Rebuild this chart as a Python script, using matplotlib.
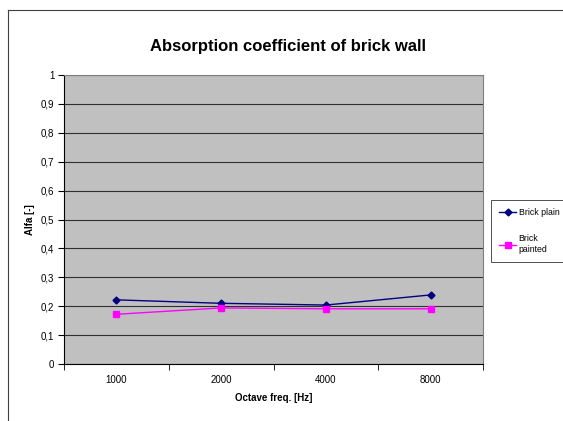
import matplotlib.pyplot as plt
import numpy as np

# data
freqs = ['1000', '2000', '4000', '8000']
brick_plain = [0.222, 0.210, 0.204, 0.239]
brick_painted = [0.172, 0.194, 0.191, 0.191]

plt.rcParams['font.family'] = ['Liberation Sans', 'DejaVu Sans']

fig = plt.figure(figsize=(5.63, 4.21), dpi=100)

# outer chart frame (left and top edges visible)
fig.add_artist(plt.Line2D([8 / 563, 8 / 563], [0, 1 - 10 / 421], transform=fig.transFigure,
                          color='#404040', lw=0.8))
fig.add_artist(plt.Line2D([8 / 563, 1], [1 - 10 / 421, 1 - 10 / 421], transform=fig.transFigure,
                          color='#404040', lw=0.8))

ax = fig.add_axes([64 / 563, 57 / 421, 419 / 563, 289 / 421])
ax.set_facecolor('#C0C0C0')

x = np.arange(len(freqs))
ax.plot(x, brick_plain, color='#000080', lw=1, marker='D', ms=3.5, label='Brick plain', zorder=3)
ax.plot(x, brick_painted, color='#FF00FF', lw=1, marker='s', ms=5, label='Brick\npainted', zorder=3)

ax.set_xlim(-0.5, len(freqs) - 0.5)
ax.set_ylim(0, 1)
ax.set_yticks(np.arange(0, 1.01, 0.1))
ax.set_yticklabels(['0'] + [f'0,{i}' for i in range(1, 10)] + ['1'], fontsize=7)
ax.set_xticks(x)
ax.set_xticklabels(freqs, fontsize=7)
ax.set_xticks(np.arange(-0.5, len(freqs), 1), minor=True)
ax.tick_params(axis='x', which='major', length=0, pad=8)
ax.tick_params(axis='x', which='minor', length=4, direction='out')
ax.tick_params(axis='y', length=4, direction='out', pad=3)
ax.yaxis.grid(True, color='#303030', lw=0.8)
ax.set_axisbelow(True)

for side in ['top', 'right']:
    ax.spines[side].set_color('#808080')
ax.spines['left'].set_color('black')
ax.spines['bottom'].set_color('black')

ax.set_xlabel('Octave freq. [Hz]', fontsize=7, fontweight='bold', labelpad=6)
ax.set_ylabel('Alfa [-]', fontsize=7, fontweight='bold', labelpad=4)
fig.text(0.512, 1 - 47 / 421, 'Absorption coefficient of brick wall', ha='center', va='center',
         fontsize=12, fontweight='bold')

leg = fig.legend(loc='upper left', bbox_to_anchor=(491 / 563, 1 - 200 / 421), fontsize=6.3,
                 frameon=True, fancybox=False, edgecolor='black', handlelength=2.0,
                 labelspacing=2.0, borderpad=0.9, borderaxespad=0, handletextpad=0.25)
leg.get_frame().set_linewidth(0.6)

fig.savefig('out.png', dpi=100)
